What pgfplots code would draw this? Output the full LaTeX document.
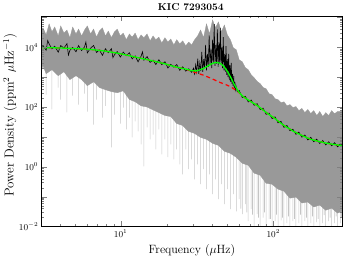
\documentclass[border=0pt]{standalone}
\usepackage{pgfplots}
\pgfplotsset{compat=1.18}
\begin{document}
\begin{tikzpicture}
\begin{axis}[
  scale only axis, width=300.6pt, height=210.5pt,
  xmode=log, ymode=log,
  xmin=3.04, xmax=283, ymin=0.01, ymax=1.12e5,
  ytick={1e-2,1e-1,1,1e1,1e2,1e3,1e4,1e5},
  yticklabels={$10^{-2}$,,$10^{0}$,,$10^{2}$,,$10^{4}$,},
  tick label style={font=\fontsize{9}{10}\selectfont},
  major tick length=5pt, minor tick length=2.5pt,
  axis on top,
  xlabel={Frequency ($\mu$Hz)},
  ylabel={Power Density (ppm$^2$ $\mu$Hz$^{-1}$)},
  xlabel style={font=\fontsize{12}{14}\selectfont, at={(axis description cs:0.5,-0.116)}, anchor=center},
  ylabel style={font=\fontsize{13}{15}\selectfont, at={(axis description cs:-0.105,0.53)}, anchor=center},
]
% light grey downward spikes
\addplot[gray!45, line width=0.5pt] coordinates {
(3.25,9750)(3.25,260)(3.25,9750)
(3.55,9650)(3.55,83)(3.55,9650)
(3.9,9550)(3.9,450)(3.9,9550)
(4.05,9480)(4.05,178)(4.05,9480)
(4.45,9300)(4.45,66)(4.45,9300)
(4.85,9150)(4.85,240)(4.85,9150)
(5.3,8980)(5.3,121)(5.3,8980)
(5.8,8780)(5.8,280)(5.8,8780)
(6.05,8680)(6.05,70)(6.05,8680)
(6.65,8330)(6.65,26)(6.65,8330)
(6.95,8130)(6.95,178)(6.95,8130)
(7.6,7700)(7.6,44)(7.6,7700)
(7.95,7430)(7.95,110)(7.95,7430)
(8.7,6920)(8.7,4.5)(8.7,6920)
(9.1,6630)(9.1,56)(9.1,6630)
(9.95,6130)(9.95,28)(9.95,6130)
(10.4,5880)(10.4,96)(10.4,5880)
(10.9,5600)(10.9,17.8)(10.9,5600)
(11.4,5250)(11.4,44)(11.4,5250)
(11.9,5000)(11.9,9.6)(11.9,5000)
(12.45,4750)(12.45,33)(12.45,4750)
(13,4500)(13,15.2)(13,4500)
(13.6,4290)(13.6,5.6)(13.6,4290)
(14.2,4090)(14.2,1.04)(14.2,4090)
(14.9,3880)(14.9,21)(14.9,3880)
(15.6,3680)(15.6,8.3)(15.6,3680)
(16.3,3500)(16.3,12)(16.3,3500)
(17,3330)(17,3.8)(17,3330)
(17.8,3170)(17.8,17.8)(17.8,3170)
(18.6,2980)(18.6,2.6)(18.6,2980)
(19.5,2800)(19.5,8.3)(19.5,2800)
(20.4,2620)(20.4,2.1)(20.4,2620)
(21.3,2460)(21.3,5.6)(21.3,2460)
(22.3,2320)(22.3,1.78)(22.3,2320)
(23.3,2180)(23.3,3.8)(23.3,2180)
(24.4,2060)(24.4,1.2)(24.4,2060)
(25.5,1960)(25.5,0.56)(25.5,1960)
(26.7,1870)(26.7,3.8)(26.7,1870)
(27.9,1760)(27.9,0.83)(27.9,1760)
(29.2,1660)(29.2,1.78)(29.2,1660)
(30.5,1630)(30.5,0.38)(30.5,1630)
(31.9,1680)(31.9,1.2)(31.9,1680)
(33.4,1800)(33.4,0.26)(33.4,1800)
(34.9,1970)(34.9,0.83)(34.9,1970)
(36.5,2240)(36.5,0.178)(36.5,2240)
(38.2,2560)(38.2,0.56)(38.2,2560)
(40,2880)(40,0.121)(40,2880)
(41.8,3060)(41.8,0.38)(41.8,3060)
(43.7,3080)(43.7,0.083)(43.7,3080)
(45.7,2770)(45.7,0.26)(45.7,2770)
(47.8,2180)(47.8,0.056)(47.8,2180)
(50,1580)(50,0.178)(50,1580)
(52.3,1050)(52.3,0.038)(52.3,1050)
(54.7,660)(54.7,0.121)(54.7,660)
(57.2,440)(57.2,0.032)(57.2,440)
(59.8,310)(59.8,0.083)(59.8,310)
(62.6,240)(62.6,0.026)(62.6,240)
(65.5,200)(65.5,0.056)(65.5,200)
(68.5,170)(68.5,0.015)(68.5,170)
(71.6,150)(71.6,0.038)(71.6,150)
(74.9,132)(74.9,0.005)(74.9,132)
(78.4,113)(78.4,0.026)(78.4,113)
(82,95)(82,0.005)(82,95)
(85.7,80)(85.7,0.02)(85.7,80)
(89.7,66)(89.7,0.005)(89.7,66)
(93.8,55)(93.8,0.0178)(93.8,55)
(98.1,47)(98.1,0.005)(98.1,47)
(102.6,41)(102.6,0.015)(102.6,41)
(107.3,34)(107.3,0.005)(107.3,34)
(112.3,29)(112.3,0.016)(112.3,29)
(117.4,24)(117.4,0.005)(117.4,24)
(122.8,21)(122.8,0.013)(122.8,21)
(128.5,18.5)(128.5,0.005)(128.5,18.5)
(134.4,15.7)(134.4,0.015)(134.4,15.7)
(140.6,14)(140.6,0.005)(140.6,14)
(147,12.6)(147,0.013)(147,12.6)
(153.8,11.3)(153.8,0.005)(153.8,11.3)
(160.9,10.1)(160.9,0.015)(160.9,10.1)
(168.3,9.1)(168.3,0.005)(168.3,9.1)
(176,8.4)(176,0.013)(176,8.4)
(184,7.9)(184,0.005)(184,7.9)
(192.5,7.3)(192.5,0.014)(192.5,7.3)
(201.4,6.9)(201.4,0.005)(201.4,6.9)
(210.7,6.6)(210.7,0.013)(210.7,6.6)
(220.4,6.2)(220.4,0.005)(220.4,6.2)
(230.5,6.0)(230.5,0.015)(230.5,6.0)
(241,5.8)(241,0.005)(241,5.8)
(252,5.55)(252,0.013)(252,5.55)
(263.6,5.35)(263.6,0.005)(263.6,5.35)
(275.7,5.2)(275.7,0.013)(275.7,5.2)
};
% medium grey spikes
\addplot[gray!70, line width=0.5pt] coordinates {
(61.2,270)(61.2,0.04)(61.2,270)
(67,185)(67,0.03)(67,185)
(73.2,140)(73.2,0.025)(73.2,140)
(80.2,104)(80.2,0.02)(80.2,104)
(87.7,72)(87.7,0.03)(87.7,72)
(96,50)(96,0.018)(96,50)
(105,37)(105,0.025)(105,37)
(114.8,26)(114.8,0.02)(114.8,26)
(125.6,19.5)(125.6,0.022)(125.6,19.5)
(137.5,14.8)(137.5,0.018)(137.5,14.8)
(150.4,11.9)(150.4,0.025)(150.4,11.9)
(164.6,9.6)(164.6,0.02)(164.6,9.6)
(180,8.1)(180,0.022)(180,8.1)
(196.9,7.1)(196.9,0.018)(196.9,7.1)
(215.5,6.4)(215.5,0.024)(215.5,6.4)
(235.7,5.9)(235.7,0.02)(235.7,5.9)
(257.8,5.45)(257.8,0.022)(257.8,5.45)
(279,5.15)(279,0.02)(279,5.15)
};
% dense grey spectrum envelope
\addplot[fill=gray!80, draw=gray!80, line width=0.3pt] coordinates {
(3.04,4.0e4)(3.1,4.5e4)(3.25,2.6e4)(3.4,6.1e4)(3.55,3.3e4)(3.7,4.8e4)(3.9,2.4e4)
(4.05,5.2e4)(4.25,3.0e4)(4.45,3.8e4)(4.65,2.1e4)(4.85,4.8e4)(5.1,2.8e4)(5.3,4.1e4)
(5.55,2.4e4)(5.8,3.8e4)(6.05,5.2e4)(6.35,2.8e4)(6.65,4.1e4)(6.95,2.2e4)(7.25,3.5e4)
(7.6,4.5e4)(7.95,2.4e4)(8.3,3.5e4)(8.7,2.1e4)(9.1,3.3e4)(9.5,4.1e4)(9.95,2.4e4)
(10.4,3.0e4)(10.9,1.8e4)(11.4,2.8e4)(11.9,2.2e4)(12.45,3.0e4)(13,1.8e4)(13.6,2.6e4)
(14.2,2.1e4)(14.9,2.8e4)(15.6,1.65e4)(16.3,2.4e4)(17,1.8e4)(17.8,2.2e4)(18.6,1.4e4)
(19.5,2.1e4)(20.4,1.5e4)(21.3,1.9e4)(22.3,1.2e4)(23.3,1.8e4)(24.4,1.3e4)(25.5,1.65e4)
(26.7,1.12e4)(27.9,1.5e4)(29.2,1.2e4)(30.5,1.8e4)(31.9,2.4e4)(33.4,3.8e4)(34.9,2.1e4)
(36.5,6.1e4)(38.2,2.8e4)(40,8.3e4)(41.8,4.5e4)(43.7,7.1e4)(45.7,3.3e4)(47.8,5.6e4)
(50,2.6e4)(52.3,1.8e4)(54.7,9600)(57.2,8300)(59.8,3800)(62.6,3300)(65.5,2100)
(68.5,1780)(71.6,1210)(74.9,960)(78.4,720)(82,610)(85.7,450)(89.7,410)(93.8,280)
(98.1,260)(102.6,190)(107.3,178)(112.3,140)(117.4,150)(122.8,110)(128.5,121)
(134.4,96)(140.6,104)(147,76)(153.8,90)(160.9,65)(168.3,83)(176,60)(184,76)
(192.5,52)(201.4,71)(210.7,48)(220.4,65)(230.5,52)(241,76)(252,60)(263.6,71)
(275.7,71)(283,83)
(283,0.033)(263.6,0.028)(241,0.041)(220.4,0.035)(201.4,0.052)(184,0.045)(168.3,0.066)
(153.8,0.061)(140.6,0.096)(128.5,0.089)(117.4,0.152)(107.3,0.178)(98.1,0.26)(89.7,0.28)
(82,0.52)(74.9,0.61)(68.5,1.12)(62.6,1.31)(57.2,2.07)(52.3,2.82)(47.8,3.3)(43.7,5.2)
(40,6.1)(36.5,8.3)(33.4,9.6)(30.5,13.1)(27.9,15.2)(25.5,24)(23.3,28)(21.3,48)
(19.5,52)(17.8,65)(16.3,80)(14.9,100)(13.6,110)(12.45,150)(11.4,180)(10.4,350)
(9.5,300)(8.7,330)(7.95,380)(7.25,450)(6.65,700)(6.05,520)(5.55,830)(5.1,1120)
(4.65,830)(4.25,1520)(3.9,1120)(3.55,1780)(3.25,1310)(3.1,2420)(3.04,1780)
} -- cycle;
% smoothed spectrum (black)
\addplot[black, line width=0.6pt] coordinates {
(3.04,10500)(3.1,11500)(3.25,8000)(3.33,17000)(3.4,13000)(3.55,8900)(3.7,10900)
(3.9,6900)(4.05,11500)(4.25,9400)(4.45,13300)(4.55,5500)(4.65,7900)(4.85,9900)
(5.1,7100)(5.3,11400)(5.55,7800)(5.8,10300)(5.92,15000)(6.05,6500)(6.35,9400)
(6.65,11500)(6.95,6700)(7.25,8200)(7.6,5400)(7.95,9000)(8.3,6600)(8.7,9000)
(8.9,4500)(9.1,5600)(9.5,7200)(9.95,4700)(10.4,6900)(10.9,5250)(11.4,6600)
(11.9,4100)(12.45,5200)(13,3260)(13.6,5000)(13.9,7000)(14.2,3700)(14.9,4900)
(15.6,3130)(16.3,3730)(17,2660)(17.8,3850)(18.6,2620)(19.5,3290)(20.4,2030)
(21.3,2710)(22.3,2170)(23.3,2640)(24.4,1700)(25.5,2230)(26.7,1590)(27.9,1910)
(29.2,1460)
(30,2000)(30.5,1300)(31,2600)(31.5,1500)(32,4200)(32.5,1300)(33,3000)(33.5,1600)
(34,7000)(34.5,1500)(35,4000)(35.5,2000)(36,12000)(36.5,1700)(37,6000)(37.5,2200)
(38,25000)(38.5,2500)(39,9000)(39.5,2000)(40,18000)(40.5,3000)(41,60000)(41.5,2400)
(42,12000)(42.5,2800)(43,40000)(43.5,2200)(44,15000)(44.5,3000)(45,45000)(45.5,2500)
(46,10000)(46.5,2000)(47,22000)(47.5,1700)(48,6000)(48.5,1500)(49,11000)(49.5,1200)
(50,4000)(50.5,1000)(51,6000)(51.5,800)(52,2500)(52.5,700)(53,3000)(53.5,600)
(54,1300)(54.5,500)(55,1100)(55.5,420)(56,700)(56.5,380)(57,500)(58,330)
(59.8,357)(62.6,209)(65.5,230)(68.5,148)(71.6,172)(74.9,115)(78.4,130)(82,83)
(85.7,92)(89.7,57)(93.8,63)(98.1,41)(102.6,47)(107.3,29.6)(112.3,33.4)(117.4,20.9)
(122.8,24.2)(128.5,16.1)(134.4,18.1)(140.6,12.2)(147,14.5)(153.8,9.8)(160.9,11.6)
(168.3,7.9)(176,9.7)(184,6.9)(192.5,8.4)(201.4,6.0)(210.7,7.6)(220.4,5.4)
(230.5,6.9)(241,5.05)(252,6.4)(263.6,4.65)(275.7,6.0)(283,4.9)
};
% background model (red dashed)
\addplot[red, line width=1.2pt, dash pattern=on 4pt off 3pt] coordinates {
(3.04,9800)(3.5,9700)(4,9500)(5,9100)(6,8700)(7,8100)(8,7400)(9,6700)(10,6100)
(11,5450)(12,4950)(13,4500)(14,4150)(15,3850)(16.5,3450)(18,3100)(19.5,2800)
(21,2500)(23,2200)(25,2000)(27,1800)(29,1590)(31,1420)(33,1280)(35,1160)(37,1030)
(39,920)(41,820)(43,730)(45,660)(47,610)(49,560)(51,510)(53,465)(55,410)(57,360)
(59,315)(61,275)(63,232)(66,195)(70,160)(74,135)(78,115)(85,82)(92,60)(100,45)
(110,31)(119,23)(128,18.5)(135,15.5)(145,13)(154,11.2)(165,9.5)(175,8.4)(190,7.5)
(200,7.0)(215,6.4)(230,6.0)(255,5.5)(283,5.1)
};
% full model (green)
\addplot[green, line width=1.3pt] coordinates {
(3.04,9800)(3.5,9700)(4,9500)(5,9100)(6,8700)(7,8100)(8,7400)(9,6700)(10,6100)
(11,5450)(12,4950)(13,4500)(14,4150)(15,3850)(16.5,3450)(18,3100)(19.5,2800)
(21,2500)(23,2200)(25,2000)(27,1850)(29,1660)(31,1620)(33,1760)(35,1980)(37,2330)
(39,2730)(41,3020)(43,3100)(45,2880)(47,2400)(49,1840)(51,1330)(53,915)(55,620)
(57,450)(59,335)(61,275)(63,232)(66,195)(70,160)(74,135)(78,115)(85,82)(92,60)
(100,45)(110,31)(119,23)(128,18.5)(135,15.5)(145,13)(154,11.2)(165,9.5)(175,8.4)
(190,7.5)(200,7.0)(215,6.4)(230,6.0)(255,5.5)(283,5.1)
};
\coordinate (sw) at (rel axis cs:0,0);
\coordinate (ne) at (rel axis cs:1,1);
\coordinate (tt) at (rel axis cs:0.496,1.025);
\end{axis}
\node[anchor=base, font=\fontsize{10}{12}\selectfont\bfseries, inner sep=0pt] at (tt) {KIC 7293054};
\pgfresetboundingbox
\path[use as bounding box] ([xshift=-41.7pt,yshift=-35.5pt]sw) rectangle ([xshift=6.7pt,yshift=16pt]ne);
\end{tikzpicture}
\end{document}
